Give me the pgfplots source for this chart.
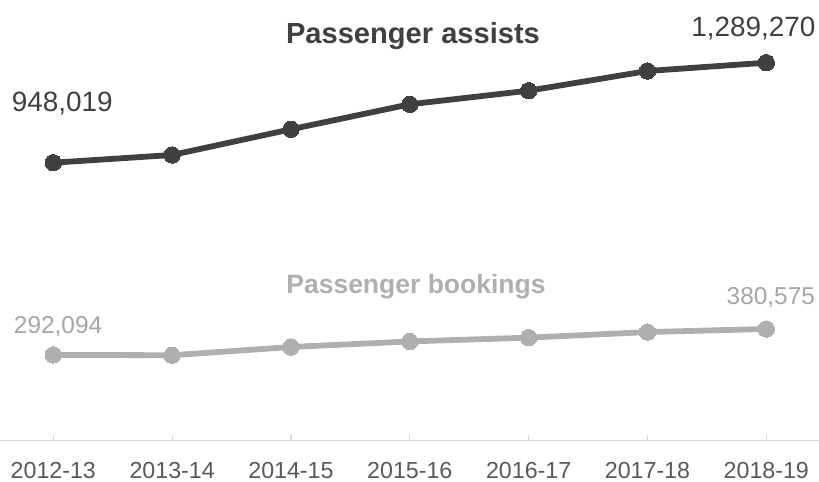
\documentclass[border=0pt]{standalone}
\usepackage{pgfplots}
\pgfplotsset{compat=1.18}
\usepackage{fontspec}
\setmainfont{Liberation Sans}
\definecolor{darkser}{HTML}{404040}
\definecolor{lightser}{HTML}{AFAFAF}
\definecolor{lightlab}{HTML}{A6A6A6}
\definecolor{ticklab}{HTML}{595959}
\definecolor{axline}{HTML}{D9D9D9}
\begin{document}
\begin{tikzpicture}
\begin{axis}[
  scale only axis,
  width=819bp, height=440.5bp,
  xmin=-0.4485, xmax=6.4435,
  ymin=0, ymax=1503200,
  clip=false,
  axis x line=bottom,
  axis y line=none,
  x axis line style={-, draw=axline, line width=1.5bp},
  xtick={0,1,2,3,4,5,6},
  xticklabels={2012-13,2013-14,2014-15,2015-16,2016-17,2017-18,2018-19},
  tick align=inside,
  major tick length=6bp,
  x tick style={draw=axline, line width=1.2bp},
  xticklabel style={anchor=base, yshift=-37.8bp, font=\fontsize{23.3}{23.3}\selectfont, text=ticklab},
]
\addplot[color=darkser, line width=5.8bp, mark=*, mark size=8.2bp, mark options={fill=darkser, draw=darkser, line width=0pt}]
  coordinates {(0,948019) (1,974300) (2,1062000) (3,1147300) (4,1193700) (5,1260900) (6,1289270)};
\addplot[color=lightser, line width=5.8bp, mark=*, mark size=8.2bp, mark options={fill=lightser, draw=lightser, line width=0pt}]
  coordinates {(0,292094) (1,291000) (2,319000) (3,338000) (4,351000) (5,370000) (6,380575)};
\node[anchor=base, text=darkser, font=\bfseries\fontsize{29.2}{29.2}\selectfont, inner sep=0pt] at (axis cs:3.027,1355500) {Passenger assists};
\node[anchor=base, text=lightser, font=\bfseries\fontsize{26.6}{26.6}\selectfont, inner sep=0pt] at (axis cs:3.052,503300) {Passenger bookings};
\node[anchor=base, text=darkser, font=\fontsize{28}{28}\selectfont, inner sep=0pt] at (axis cs:0.075,1122000) {948,019};
\node[anchor=base, text=darkser, font=\fontsize{28}{28}\selectfont, inner sep=0pt] at (axis cs:5.891,1378000) {1,289,270};
\node[anchor=base, text=lightlab, font=\fontsize{24.5}{24.5}\selectfont, inner sep=0pt] at (axis cs:0.04,365800) {292,094};
\node[anchor=base, text=lightlab, font=\fontsize{24.5}{24.5}\selectfont, inner sep=0pt] at (axis cs:6.038,462400) {380,575};
\end{axis}
\pgfresetboundingbox
\path (0,-41.5bp) rectangle (819bp,440.5bp);
\end{tikzpicture}
\end{document}
